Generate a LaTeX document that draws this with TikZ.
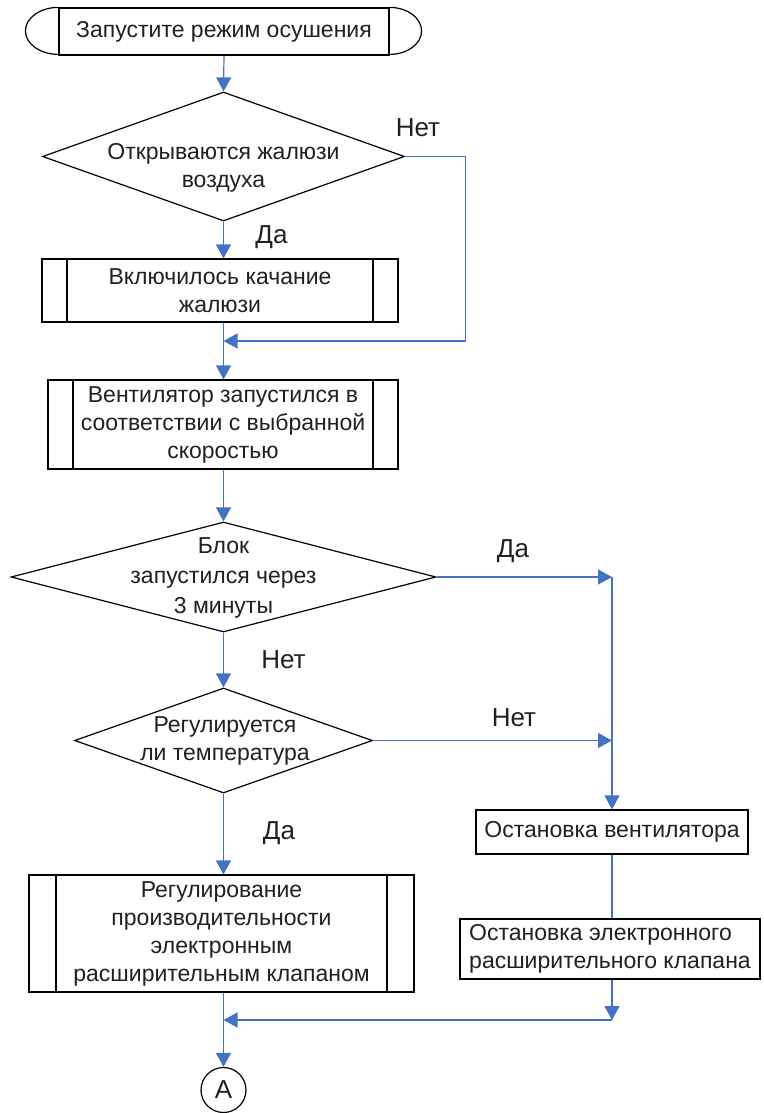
\documentclass[tikz,border=0pt]{standalone}
\usepackage{fontspec}
\setmainfont{Liberation Sans}
\usetikzlibrary{shapes,arrows.meta,positioning}
\definecolor{flowblue}{RGB}{68,114,196}
\definecolor{inkgray}{RGB}{35,31,32}

\begin{document}
\begin{tikzpicture}[x=1pt, y=-1pt,
    every node/.style={text=inkgray, font=\fontsize{23}{28}\selectfont},
    box/.style={rectangle, draw=black, line width=1.2pt, inner sep=0pt, align=center},
    procbox/.style={box, path picture={
        \draw[line width=1.2pt] ([xshift=#1]path picture bounding box.north west) -- ([xshift=#1]path picture bounding box.south west)
                                ([xshift=-#1]path picture bounding box.north east) -- ([xshift=-#1]path picture bounding box.south east);}},
    procbox/.default=25pt,
    decision/.style={diamond, draw=black, line width=1.2pt, inner sep=0pt},
    txt/.style={align=center, inner sep=0pt},
    answer/.style={font=\fontsize{26}{30}\selectfont, inner sep=0pt},
    flow/.style={draw=flowblue, line width=1.2pt},
    arr/.style={flow, -{Triangle[length=14pt, width=15pt]}}]
    \useasboundingbox (0,0) rectangle (763,1113);

    % Start terminator
    \node[box, minimum width=330pt, minimum height=47pt] (start) at (224,31.5) {Запустите режим осушения};
    \draw[line width=1.2pt] (start.north west) arc[start angle=90, end angle=270, x radius=33pt, y radius=23.5pt]
                            (start.north east) arc[start angle=90, end angle=-90, x radius=32pt, y radius=23.5pt];

    % Left column
    \node[decision, minimum width=362pt, minimum height=129pt] (q1) at (223.5,156.5) {};
    \node[txt] (q1t) at (223.5,168) {Открываются жалюзи\\воздуха};
    \node[procbox, minimum width=356pt, minimum height=63pt] (b1) at (220,290.5) {Включилось качание\\жалюзи};
    \node[procbox, minimum width=350pt, minimum height=89pt] (b2) at (223,424.5) {Вентилятор запустился в\\соответствии с выбранной\\скоростью};
    \node[decision, minimum width=425pt, minimum height=110pt] (q2) at (223.5,577) {};
    \node[txt, font=\fontsize{23}{30}\selectfont] (q2t) at (223.5,578) {Блок\\запустился через\\3 минуты};
    \node[decision, minimum width=298pt, minimum height=105pt] (q3) at (223.5,740.5) {};
    \node[txt] (q3t) at (225,741) {Регулируется\\ли температура};
    \node[procbox=27pt, minimum width=385pt, minimum height=117pt] (b3) at (221.5,933.5) {Регулирование\\производительности\\электронным\\расширительным клапаном};
    \node[circle, draw=black, line width=1.2pt, minimum size=45pt, inner sep=0pt, font=\fontsize{26}{30}\selectfont] (A) at (223.5,1090) {A};

    % Right column
    \node[box, minimum width=272pt, minimum height=44pt] (s1) at (612,832) {Остановка вентилятора};
    \node[box, align=left, minimum width=300pt, minimum height=60pt] (s2) at (610,949) {Остановка электронного\\расширительного клапана};

    % Joints
    \coordinate (j1) at (223.5,341);
    \coordinate (c1) at (612,577);
    \coordinate (c2) at (612,740.5);
    \coordinate (c3) at (612,1020);
    \coordinate (j2) at (223.5,1020);

    % Connectors
    \draw[arr] (start.south) -- (q1.north);
    \draw[arr] (q1.east) -- ++(60,0) |- (j1);
    \draw[arr] (q1.south) -- (q1.south |- b1.north);
    \draw[arr] (q1.south |- b1.south) -- (q1.south |- b2.north);
    \draw[arr] (q2.north |- b2.south) -- (q2.north);
    \draw[arr] (q2.east) -- (c1);
    \draw[arr] (q2.south) -- (q3.north);
    \draw[arr] (q3.east) -- (c2);
    \draw[arr] (c1) -- (c1 |- s1.north);
    \draw[arr] (q3.south) -- (q3.south |- b3.north);
    \draw[flow] (s1.south) -- (s1.south |- s2.north);
    \draw[arr] (s1.south |- s2.south) -- (c3);
    \draw[arr] (c3) -- (j2);
    \draw[arr] (q3.south |- b3.south) -- (A.north);

    % Answers
    \node[answer] (n1) at (418,128) {Нет};
    \node[answer] (y1) at (271.5,237) {Да};
    \node[answer] (y2) at (513,551.5) {Да};
    \node[answer] (n2) at (283.5,660) {Нет};
    \node[answer] (n3) at (514,717.5) {Нет};
    \node[answer] (y3) at (279,833.5) {Да};
\end{tikzpicture}
\end{document}
